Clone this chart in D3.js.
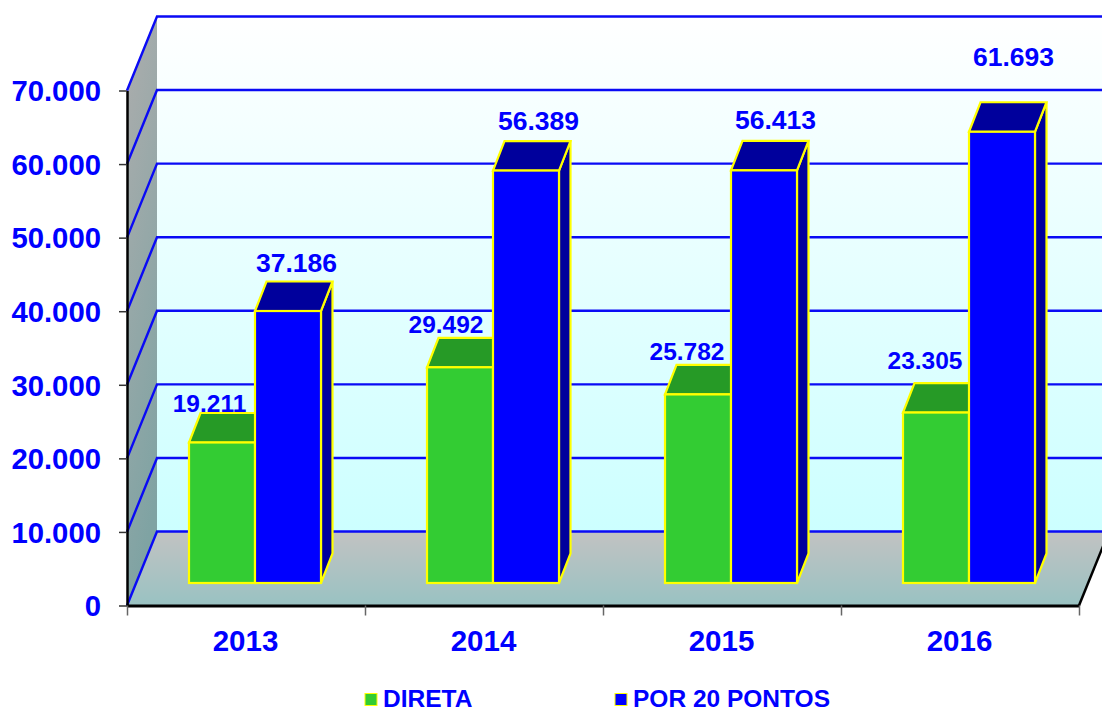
<!DOCTYPE html>
<html><head><meta charset="utf-8">
<script src="https://cdn.jsdelivr.net/npm/d3@7"></script>
<style>html,body{margin:0;padding:0;background:#fff;overflow:hidden}svg{display:block}
text{font-family:"Liberation Sans",Arial,sans-serif;font-weight:700;fill:#0000ff}</style>
</head><body><svg id="c" width="1102" height="710"></svg>
<script>
const categories = ["2013","2014","2015","2016"];
const seriesNames = ["DIRETA","POR 20 PONTOS"];
const direta = [19211,29492,25782,23305];
const por20 = [37186,56389,56413,61693];
const yTicks = [0,10000,20000,30000,40000,50000,60000,70000];

const svg = d3.select("#c");
const x = d3.scaleBand().domain(categories).range([127,1079]);
const y = d3.scaleLinear().domain([0,70000]).range([605.5,90.5]);
const barY = d3.scaleLinear().domain([0,70000]).range([583,71]);
const loc = d3.formatLocale({decimal:",",thousands:".",grouping:[3],currency:["",""]});
const fmt = loc.format(",d");
const wall = {dx:30,dy:-74}, base = {dx:9}, depth = {dx:11.5,dy:-29.5};
const barW = 66;
const colors = [{front:"#33cc33",top:"#269a26",side:"#269a26"},{front:"#0000ff",top:"#00009c",side:"#00009c"}];
const labelSize = [24.5,26.5];
// per-label placement relative to the bar's centre and top edge
const labelNudge = [
 [[-12.5,-30],[8.5,-39.5]],[[-14,-34],[12.5,-41]],[[-11,-34],[11.5,-41]],[[-11,-44],[11.5,-66]]
];

const defs = svg.append("defs");
function grad(id,x1,y1,x2,y2,stops){
  const g = defs.append("linearGradient").attr("id",id).attr("x1",x1).attr("y1",y1).attr("x2",x2).attr("y2",y2);
  stops.forEach(s=>g.append("stop").attr("offset",s[0]).attr("stop-color",s[1]));
}
grad("gWall",0,0,0,1,[[0,"#ffffff"],[1,"#ccffff"]]);
grad("gSide",0,0,0.25,1,[[0,"#adadad"],[1,"#7fa3a3"]]);
grad("gFloor",0,0,0,1,[[0,"#c2c2c2"],[1,"#99c2c2"]]);
const poly = pts => pts.map(p=>p.join(",")).join(" ");

const x0=127,x1=1079,y0=y(0),yT=y(70000);
svg.append("polygon").attr("fill","url(#gWall)")
  .attr("points",poly([[x0+wall.dx,yT+wall.dy],[1112,yT+wall.dy],[1112,y0+wall.dy],[x0+wall.dx,y0+wall.dy]]));
svg.append("polygon").attr("fill","url(#gSide)")
  .attr("points",poly([[x0,yT],[x0+wall.dx,yT+wall.dy],[x0+wall.dx,y0+wall.dy],[x0,y0]]));
svg.append("polygon").attr("fill","url(#gFloor)")
  .attr("points",poly([[x0,y0],[x0+wall.dx,y0+wall.dy],[x1+wall.dx,y0+wall.dy],[x1,y0]]));

// gridlines
svg.append("g").selectAll("polyline").data(yTicks).join("polyline")
  .attr("fill","none").attr("stroke","#0a0af5").attr("stroke-width",2.4)
  .attr("points",d=>poly([[x0,y(d)],[x0+wall.dx,y(d)+wall.dy],[1112,y(d)+wall.dy]]));

// floor edge right
svg.append("line").attr("x1",x1).attr("y1",y0).attr("x2",x1+wall.dx).attr("y2",y0+wall.dy)
  .attr("stroke","#000").attr("stroke-width",2.5);

// bars
const data = categories.map((c,i)=>({c,i,vals:[direta[i],por20[i]]}));
const barX = (c,s)=> x(c)+(x.bandwidth()-2*barW)/2 + s*barW + base.dx;
const barsG = svg.append("g");
data.forEach(d=>{
  d.vals.forEach((v,s)=>{
    const l=barX(d.c,s), r=l+barW, t=barY(v), b=barY(0);
    const g=barsG.append("g").attr("stroke","#ffff00").attr("stroke-width",2.2).attr("stroke-linejoin","miter");
    g.append("polygon").attr("fill",colors[s].side)
      .attr("points",poly([[r,t],[r+depth.dx,t+depth.dy],[r+depth.dx,b+depth.dy],[r,b]]));
    g.append("polygon").attr("fill",colors[s].top)
      .attr("points",poly([[l,t],[l+depth.dx,t+depth.dy],[r+depth.dx,t+depth.dy],[r,t]]));
    g.append("rect").attr("x",l).attr("y",t).attr("width",barW).attr("height",b-t).attr("fill",colors[s].front);
  });
});
// data labels
data.forEach(d=>{
  d.vals.forEach((v,s)=>{
    const n=labelNudge[d.i][s];
    svg.append("text").attr("x",barX(d.c,s)+barW/2+n[0]).attr("y",barY(v)+n[1])
      .attr("text-anchor","middle").attr("font-size",labelSize[s]).text(fmt(v));
  });
});

// axes
const axL = d3.axisLeft(y).tickValues(yTicks).tickFormat(fmt).tickSize(8).tickSizeOuter(0).tickPadding(18);
const gL = svg.append("g").attr("transform",`translate(${x0},0)`).call(axL).attr("font-family",null).attr("font-size",null);
gL.select(".domain").attr("stroke","#000").attr("stroke-width",2.5);
gL.selectAll(".tick line").attr("stroke","#333").attr("stroke-width",1.5);
gL.selectAll(".tick text").attr("font-size",29.3).attr("dy","0.35em").attr("fill",null);

const axB = d3.axisBottom(d3.scaleLinear().domain([0,4]).range([x0,x1])).tickValues([0,1,2,3,4]).tickFormat("").tickSize(10).tickSizeOuter(0);
const gB = svg.append("g").attr("transform",`translate(0,${y0})`).call(axB);
gB.select(".domain").attr("stroke","#000").attr("stroke-width",3);
gB.selectAll(".tick line").attr("stroke","#666").attr("stroke-width",1.5);
svg.append("g").selectAll("text").data(categories).join("text")
  .attr("x",d=>x(d)+x.bandwidth()/2-0.5).attr("y",650.5).attr("text-anchor","middle").attr("font-size",29.5).text(d=>d);

// legend
const legX=[365,615];
seriesNames.forEach((n,s)=>{
  svg.append("rect").attr("x",legX[s]).attr("y",693.5).attr("width",12).attr("height",12)
    .attr("fill",colors[s].front).attr("stroke","#ffff00").attr("stroke-width",1);
  svg.append("text").attr("x",legX[s]+18).attr("y",707).attr("font-size",24.5).text(n);
});
</script></body></html>
